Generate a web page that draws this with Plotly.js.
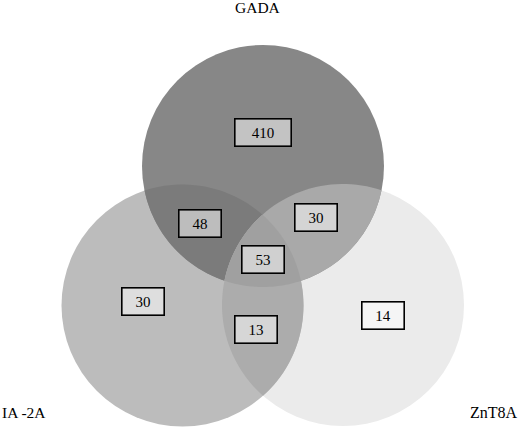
<!DOCTYPE html>
<html>
<head>
<meta charset="utf-8">
<script src="https://cdn.plot.ly/plotly-3.0.1.min.js"></script>
<style>
  html, body { margin: 0; padding: 0; background: #fff; }
  #chart { width: 520px; height: 427px; }
</style>
</head>
<body>
<div id="chart"></div>
<script>
// set names and region counts
const setNames = ['GADA', 'IA -2A', 'ZnT8A'];
const regionNames = ['GADA', 'GADA+IA-2A', 'GADA+ZnT8A', 'all', 'IA-2A', 'IA-2A+ZnT8A', 'ZnT8A'];
const regionCounts = [410, 48, 30, 53, 30, 13, 14];

// layout: plot units are pixels (y downwards)
const R = 121;
const circles = {
    G: { x: 263, y: 166, color: '#878787' },
    I: { x: 182.5, y: 305.5, color: '#bcbcbc' },
    Z: { x: 343, y: 305, color: '#ebebeb' }
};
const boxX = [262.5, 200, 316, 262.5, 142.5, 255.5, 382.5];
const boxY = [132, 223, 217, 259, 301, 329, 315.5];
const boxW = [53, 39, 39, 39, 39, 39, 39];

function inside(p, c) {
    return Math.hypot(p[0] - c.x, p[1] - c.y) < R - 0.01;
}

function crossings(a, b) {
    const dx = b.x - a.x, dy = b.y - a.y;
    const d = Math.hypot(dx, dy);
    const h = Math.sqrt(R * R - d * d / 4);
    const mx = (a.x + b.x) / 2, my = (a.y + b.y) / 2;
    return [[mx - h * dy / d, my + h * dx / d], [mx + h * dy / d, my - h * dx / d]];
}

// points on circle c from p1 to p2, taking the way whose middle sits inside all of tests
function arc(c, p1, p2, tests) {
    const a1 = Math.atan2(p1[1] - c.y, p1[0] - c.x);
    const a2 = Math.atan2(p2[1] - c.y, p2[0] - c.x);
    let sweep = a2 - a1;
    while (sweep < 0) sweep += 2 * Math.PI;
    const mid = a1 + sweep / 2;
    const m = [c.x + R * Math.cos(mid), c.y + R * Math.sin(mid)];
    if (!tests.every(t => inside(m, t))) sweep -= 2 * Math.PI;
    const pts = [];
    for (let i = 0; i <= 40; i++) {
        const t = a1 + sweep * i / 40;
        pts.push([c.x + R * Math.cos(t), c.y + R * Math.sin(t)]);
    }
    return pts;
}

function toPath(pts) {
    return 'M' + pts.map(p => p[0].toFixed(2) + ',' + p[1].toFixed(2)).join(' L') + ' Z';
}

function lens(a, b) {
    const [p1, p2] = crossings(a, b);
    return toPath(arc(a, p1, p2, [b]).concat(arc(b, p2, p1, [a])));
}

const { G, I, Z } = circles;
const vGI = crossings(G, I).find(p => inside(p, Z));
const vGZ = crossings(G, Z).find(p => inside(p, I));
const vIZ = crossings(I, Z).find(p => inside(p, G));
const centerPath = toPath(
    arc(G, vGI, vGZ, [I, Z])
        .concat(arc(Z, vGZ, vIZ, [G, I]))
        .concat(arc(I, vIZ, vGI, [G, Z]))
);

const shapes = [];
['Z', 'I', 'G'].forEach(k => {
    const c = circles[k];
    shapes.push({
        type: 'circle', xref: 'x', yref: 'y',
        x0: c.x - R, x1: c.x + R, y0: c.y - R, y1: c.y + R,
        fillcolor: c.color, line: { width: 0 }, layer: 'below'
    });
});
shapes.push({ type: 'path', path: lens(G, I), fillcolor: '#7b7b7b', line: { width: 0 }, layer: 'below' });
shapes.push({ type: 'path', path: lens(G, Z), fillcolor: '#a9a9a9', line: { width: 0 }, layer: 'below' });
shapes.push({ type: 'path', path: lens(I, Z), fillcolor: '#acacac', line: { width: 0 }, layer: 'below' });
shapes.push({ type: 'path', path: centerPath, fillcolor: '#a0a0a0', line: { width: 0 }, layer: 'below' });

const font = { family: '"Liberation Serif", "DejaVu Serif", serif', color: '#000' };

const annotations = regionCounts.map((n, i) => ({
    x: boxX[i], y: boxY[i], xref: 'x', yref: 'y',
    text: String(n), showarrow: false,
    width: boxW[i], height: 24, borderpad: 1,
    bgcolor: 'rgba(255,255,255,0.5)', bordercolor: '#000', borderwidth: 1.6,
    font: Object.assign({ size: 15 }, font)
}));
annotations.push(
    { x: 258, y: 7, text: setNames[0], xref: 'x', yref: 'y', showarrow: false, font: Object.assign({ size: 15.5 }, font) },
    { x: 0, y: 412, text: setNames[1], xref: 'x', yref: 'y', xanchor: 'left', showarrow: false, font: Object.assign({ size: 15.5 }, font) },
    { x: 520, y: 412, text: setNames[2], xref: 'x', yref: 'y', xanchor: 'right', showarrow: false, font: Object.assign({ size: 16 }, font) }
);

const layout = {
    width: 520, height: 427,
    margin: { l: 0, r: 0, t: 0, b: 0 },
    paper_bgcolor: '#fff', plot_bgcolor: '#fff',
    xaxis: { range: [0, 520], visible: false, fixedrange: true },
    yaxis: { range: [427, 0], visible: false, fixedrange: true },
    showlegend: false,
    shapes: shapes,
    annotations: annotations
};

Plotly.newPlot('chart', [{ x: [], y: [], type: 'scatter', hoverinfo: 'skip' }], layout, { displayModeBar: false, staticPlot: true });
</script>
</body>
</html>
